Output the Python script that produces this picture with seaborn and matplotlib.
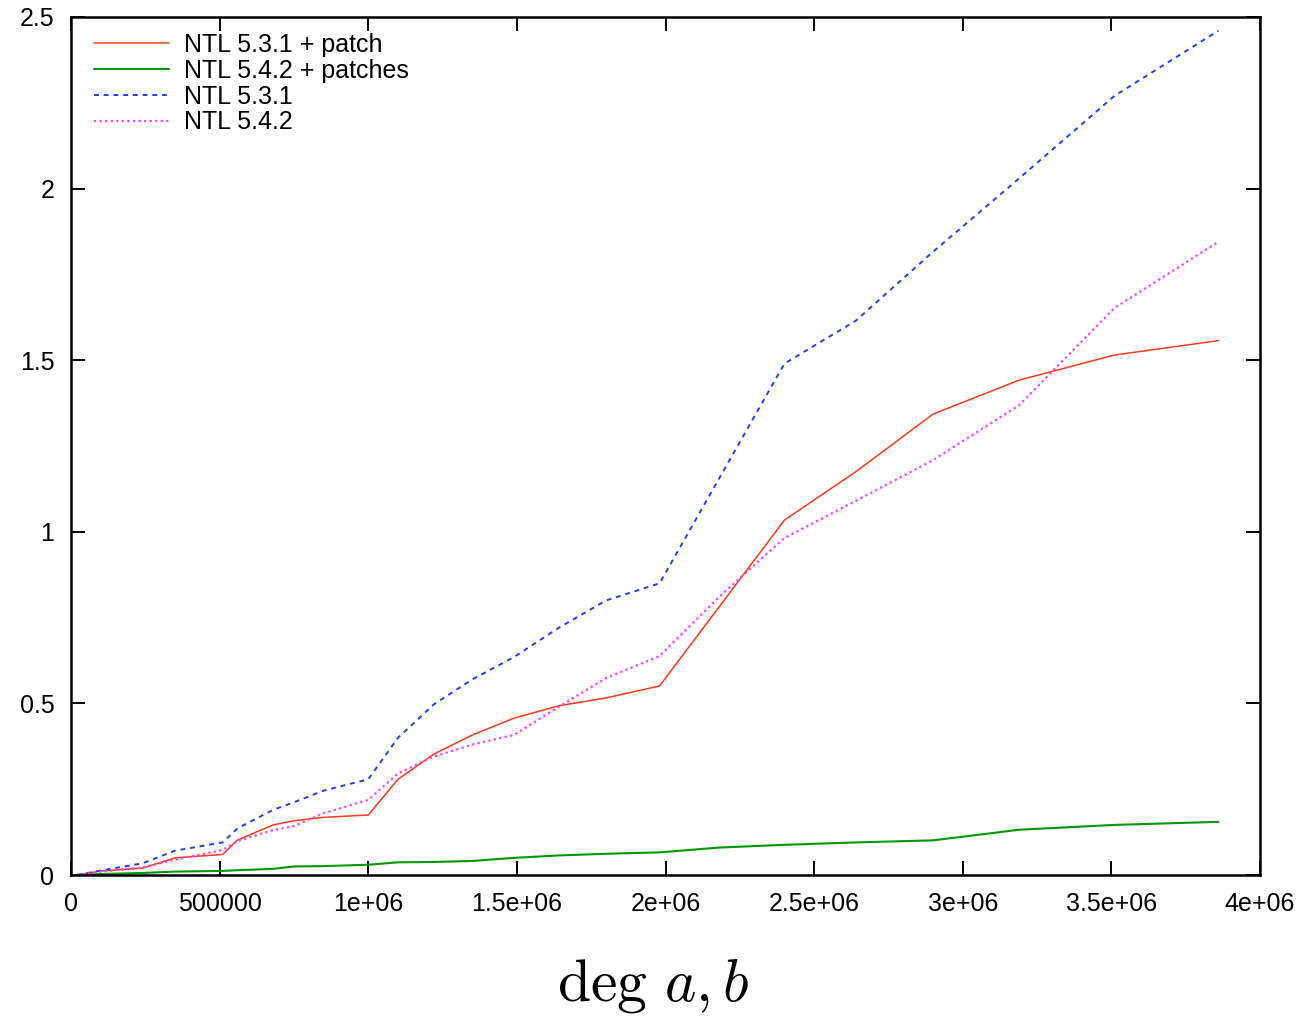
import pandas as pd
import matplotlib
matplotlib.use("Agg")
import matplotlib.pyplot as plt
import seaborn as sns

# degrees (x) and timings for each NTL build
deg = [0.02e6, 0.10e6, 0.24e6, 0.35e6, 0.51e6, 0.56e6, 0.68e6, 0.75e6, 0.85e6,
       1.00e6, 1.10e6, 1.22e6, 1.35e6, 1.49e6, 1.64e6, 1.80e6, 1.98e6, 2.18e6,
       2.40e6, 2.64e6, 2.90e6, 3.19e6, 3.51e6, 3.86e6]

ntl531_patch = [0.0, 0.012, 0.02, 0.05, 0.06, 0.102, 0.146, 0.158, 0.168,
                0.175, 0.279, 0.352, 0.408, 0.457, 0.493, 0.516, 0.551, 0.781,
                1.034, 1.175, 1.343, 1.442, 1.515, 1.557]
ntl542_patches = [0.0, 0.003, 0.006, 0.01, 0.012, 0.014, 0.018, 0.025, 0.026,
                  0.030, 0.037, 0.038, 0.041, 0.050, 0.057, 0.062, 0.066, 0.080,
                  0.088, 0.095, 0.101, 0.132, 0.146, 0.155]
ntl531 = [0.0, 0.013, 0.034, 0.071, 0.095, 0.136, 0.19, 0.212, 0.246,
          0.279, 0.40, 0.497, 0.57, 0.635, 0.72, 0.80, 0.85, 1.155,
          1.49, 1.615, 1.816, 2.03, 2.27, 2.46]
ntl542 = [0.0, 0.01, 0.022, 0.045, 0.073, 0.099, 0.131, 0.143, 0.18,
          0.219, 0.296, 0.345, 0.38, 0.408, 0.49, 0.574, 0.638, 0.81,
          0.982, 1.09, 1.209, 1.369, 1.652, 1.845]

labels = ["NTL 5.3.1 + patch", "NTL 5.4.2 + patches", "NTL 5.3.1", "NTL 5.4.2"]
series = [ntl531_patch, ntl542_patches, ntl531, ntl542]
colors = ["#ff3a1a", "#009a00", "#1f3dff", "#ff3cff"]
styles = ["-", "-", (0, (2.5, 2.5)), (0, (1, 1.5))]
widths = [1.1, 1.5, 1.4, 1.6]

xticks = [0, 500000, 1e6, 1.5e6, 2e6, 2.5e6, 3e6, 3.5e6, 4e6]
xticklabels = ["0", "500000", "1e+06", "1.5e+06", "2e+06", "2.5e+06", "3e+06", "3.5e+06", "4e+06"]
yticks = [0, 0.5, 1, 1.5, 2, 2.5]
yticklabels = ["0", "0.5", "1", "1.5", "2", "2.5"]

sns.set_style("ticks")
plt.rcParams["font.family"] = ["Liberation Sans", "DejaVu Sans"]
plt.rcParams["mathtext.fontset"] = "cm"
plt.rcParams["text.color"] = "black"
plt.rcParams["axes.labelcolor"] = "black"

fig = plt.figure(figsize=(13.06, 10.17), dpi=100)
ax = fig.add_axes([0.0544, 0.1396, 0.9104, 0.8437])

for vals, lab, col, ls, lw in zip(series, labels, colors, styles, widths):
    df = pd.DataFrame({"deg": deg, "t": vals})
    sns.lineplot(data=df, x="deg", y="t", ax=ax, color=col, linestyle=ls,
                 linewidth=lw, label=lab)

ax.set_xlim(0, 4e6)
ax.set_ylim(0, 2.5)
ax.set_xticks(xticks)
ax.set_xticklabels(xticklabels)
ax.set_yticks(yticks)
ax.set_yticklabels(yticklabels)
ax.tick_params(direction="in", length=10, width=1.4, labelsize=18,
               top=True, right=True, pad=12, color="black", labelcolor="black")
ax.tick_params(axis="x", pad=12)
for s in ax.spines.values():
    s.set_linewidth(1.8)
    s.set_color("black")
    s.set_visible(True)

ax.set_ylabel("")
ax.set_xlabel(r"$\deg\, a, b$", fontsize=43)
ax.xaxis.set_label_coords(0.49, -0.095)

leg = ax.legend(loc="upper left", bbox_to_anchor=(0.006, 1.0), frameon=False,
                fontsize=18, handlelength=3.0, handletextpad=0.6,
                labelspacing=0.07, borderaxespad=0.3, borderpad=0.35)

fig.savefig("out.png", dpi=100, facecolor="white")
